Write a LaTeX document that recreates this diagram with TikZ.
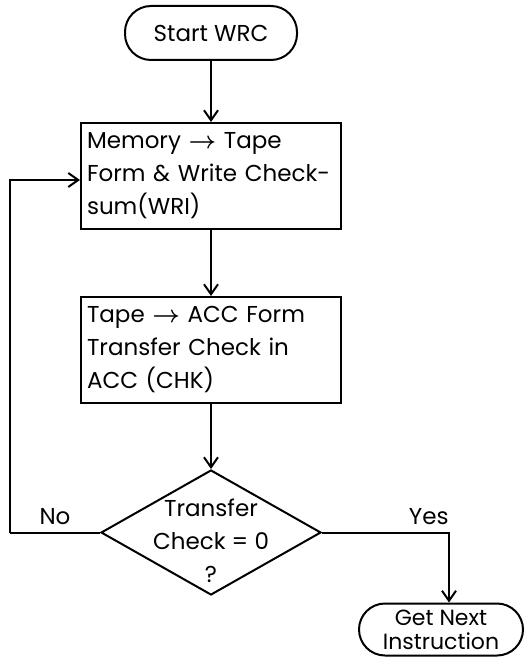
\documentclass[tikz,border=0pt]{standalone}
\usepackage{fontspec}
\setmainfont{Poppins}
\usetikzlibrary{positioning,shapes.geometric,arrows.meta}

\begin{document}
\begin{tikzpicture}[
    x=0.5pt, y=-0.5pt,
    font=\fontsize{11.5}{16.5}\selectfont,
    terminal/.style={
        rectangle,
        draw,
        rounded corners=13pt,
        minimum width=86pt,
        minimum height=27pt,
        align=center,
        line width=1pt
    },
    block/.style={
        rectangle,
        draw,
        text width=124pt,
        minimum height=53pt,
        inner sep=3pt,
        align=left,
        line width=1pt
    },
    decision/.style={
        diamond,
        draw,
        minimum width=110pt,
        minimum height=62.5pt,
        inner sep=0pt,
        line width=1pt
    },
    line/.style={
        draw,
        -{Straight Barb[length=5pt,width=7pt]},
        line width=1pt
    },
    wire/.style={
        draw,
        line width=1pt
    }
]
    \useasboundingbox (0,0) rectangle (526,657);

    % --- Main column ---
    \node [terminal] (start) at (211,33) {Start WRC};
    \node [block, below=30.5pt of start] (write) {Memory {\boldmath$\rightarrow$} Tape\\Form \& Write Check-\\sum(WRI)};
    \node [block, below=33pt of write] (check) {Tape {\boldmath$\rightarrow$} ACC Form\\Transfer Check in\\ACC (CHK)};
    \node [decision, below=32.5pt of check,
           label={[align=center, yshift=-4pt]center:Transfer\\Check = 0\\?}] (test) {};

    % --- Exit ---
    \node [terminal, minimum width=82pt, minimum height=26pt, inner ysep=1.5pt,
           font=\fontsize{11}{12}\selectfont,
           below right=35pt and 18pt of test.east] (next) {Get Next\\Instruction};
    \coordinate [left=45pt of test.west] (loop);

    % --- Connections ---
    \path [line] (start) -- (write);
    \path [line] (write) -- (check);
    \path [line] (check) -- (test);
    \path [wire] (test.west) -- node[above] {No} (loop);
    \path [line] (loop) |- ([yshift=-2pt]write.west);
    \path [line] (test.east) -| node[pos=0.42, above] {Yes} ([xshift=4pt]next.north);

\end{tikzpicture}
\end{document}
